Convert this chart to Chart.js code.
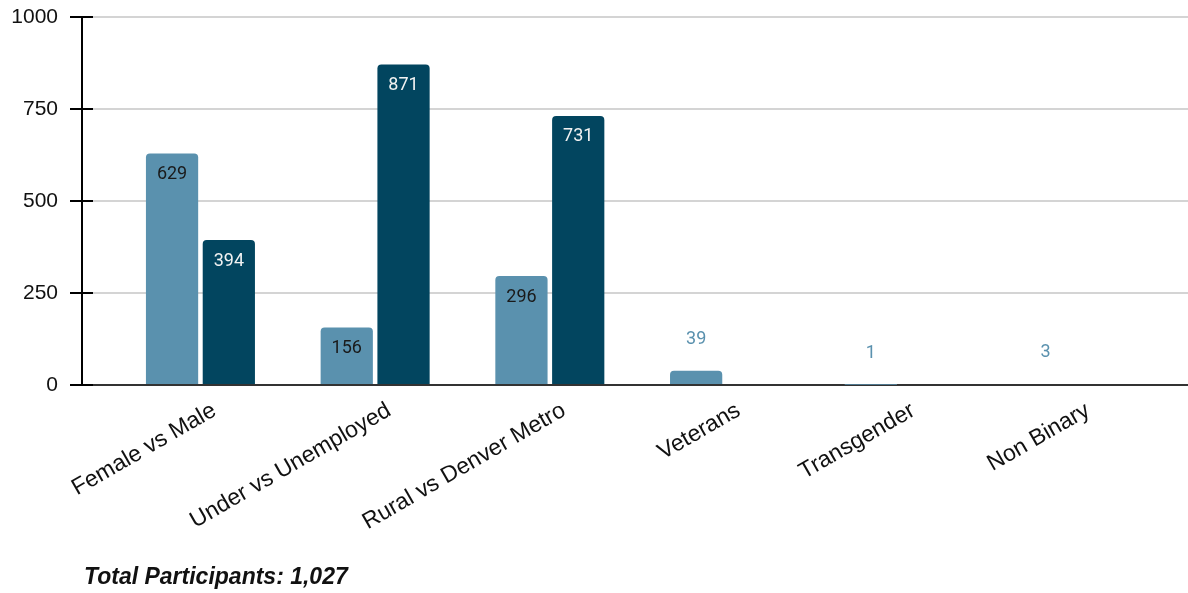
<!DOCTYPE html>
<html>
<head>
<meta charset="utf-8">
<script src="https://cdn.jsdelivr.net/npm/chart.js@4.4.1/dist/chart.umd.min.js"></script>
<style>
  body { margin: 0; background: #fff; }
  #wrap { position: relative; width: 1188px; height: 593px; }
  #footer {
    position: absolute; left: 84px; top: 563px;
    font: italic bold 23px "Liberation Sans", Arial, sans-serif;
    line-height: 27px; color: #111;
  }
</style>
</head>
<body>
<div id="wrap">
  <canvas id="chart"></canvas>
  <div id="footer">Total Participants: 1,027</div>
</div>
<script>
var categories = ['Female vs Male', 'Under vs Unemployed', 'Rural vs Denver Metro', 'Veterans', 'Transgender', 'Non Binary'];
var firstGroup = [629, 156, 296, 39, 1, 3];
var secondGroup = [394, 871, 731, null, null, null];
var yTicks = [0, 250, 500, 750, 1000];

var lightBlue = '#5a91ae';
var darkBlue = '#02455f';

// labels on top of bars, inside when they fit, above when not
var barLabels = {
    id: 'barLabels',
    afterDatasetsDraw: function(chart){
        var ctx = chart.ctx;
        ctx.save();
        ctx.font = '18px Roboto';
        ctx.textAlign = 'center';
        ctx.textBaseline = 'middle';
        chart.data.datasets.forEach(function(ds, di){
            var meta = chart.getDatasetMeta(di);
            meta.data.forEach(function(bar, i){
                var v = ds.data[i];
                if(v === null || v === undefined) return;
                var h = bar.base - bar.y;
                var y;
                if(h > 40){
                    y = bar.y + 21;
                    ctx.fillStyle = ds.insideLabelColor;
                } else {
                    y = bar.y - 31;
                    ctx.fillStyle = ds.backgroundColor;
                }
                ctx.fillText(String(v), bar.x, y);
            });
        });
        ctx.restore();
    }
};

// tick marks also poke a little into the plot area
var innerTicks = {
    id: 'innerTicks',
    afterDraw: function(chart){
        var y = chart.scales.y;
        var ctx = chart.ctx;
        ctx.save();
        ctx.strokeStyle = '#000';
        ctx.lineWidth = 2;
        y.ticks.forEach(function(t, i){
            var py = y.getPixelForTick(i);
            ctx.beginPath();
            ctx.moveTo(y.right, py);
            ctx.lineTo(y.right + 11, py);
            ctx.stroke();
        });
        ctx.restore();
    }
};

new Chart(document.getElementById('chart'), {
    type: 'bar',
    data: {
        labels: categories.map(function(c, i){ return i; }),
        datasets: [
            {
                data: firstGroup,
                backgroundColor: lightBlue,
                insideLabelColor: '#1a1a1a',
                borderRadius: {topLeft: 4, topRight: 4},
                borderSkipped: 'start'
            },
            {
                data: secondGroup,
                backgroundColor: darkBlue,
                insideLabelColor: '#f2f2f2',
                borderRadius: {topLeft: 4, topRight: 4},
                borderSkipped: 'start'
            }
        ]
    },
    options: {
        responsive: true,
        maintainAspectRatio: false,
        animation: false,
        categoryPercentage: 0.65,
        barPercentage: 0.92,
        layout: {padding: {top: 17, left: 0, right: 0, bottom: 0}},
        plugins: {
            legend: {display: false},
            tooltip: {enabled: false}
        },
        scales: {
            x: {
                type: 'linear',
                offset: false,
                min: -0.678,
                max: 5.653,
                grid: {display: false, offset: false},
                border: {display: false},
                afterFit: function(scale){ scale.height = 208; scale.paddingLeft = 0; scale.paddingRight = 0; },
                ticks: {
                    stepSize: 1,
                    includeBounds: false,
                    autoSkip: false,
                    maxRotation: 30,
                    minRotation: 30,
                    labelOffset: 14,
                    padding: 4,
                    color: '#111',
                    font: {family: 'Liberation Sans', size: 23},
                    callback: function(v){ return categories[v] !== undefined ? categories[v] : ''; }
                }
            },
            y: {
                min: 0,
                max: 1000,
                afterFit: function(scale){ scale.width = 82; scale.paddingTop = 0; scale.paddingBottom = 0; },
                afterBuildTicks: function(scale){
                    scale.ticks = yTicks.map(function(v){ return {value: v}; });
                },
                border: {display: true, color: '#000', width: 2},
                grid: {
                    color: function(c){ return c.tick && c.tick.value === 0 ? '#333' : '#d4d4d4'; },
                    lineWidth: 2,
                    drawTicks: true,
                    tickLength: 12,
                    tickColor: '#000',
                    tickWidth: 2
                },
                ticks: {
                    padding: 12,
                    color: '#111',
                    font: {family: 'Liberation Sans', size: 21},
                    callback: function(v){ return String(v); }
                }
            }
        }
    },
    plugins: [barLabels, innerTicks]
});
</script>
</body>
</html>
